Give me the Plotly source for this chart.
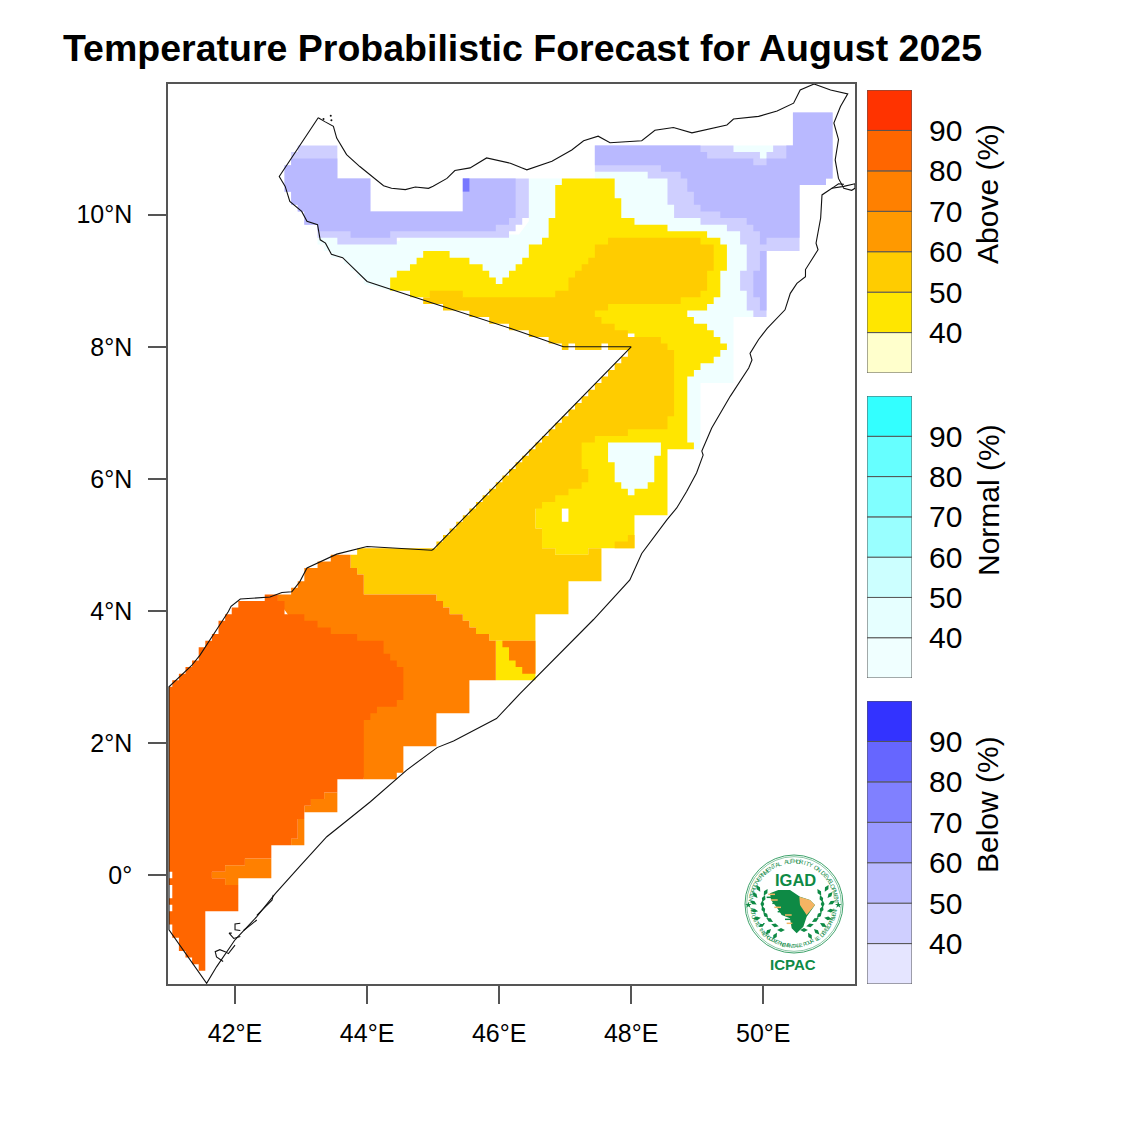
import math
import plotly.graph_objects as go

# ---- map data: every region is (lon, lat) corners ----
NORMAL_40 = [(43.25,9.65),(43.25,9.55),(43.35,9.55),(43.35,9.45),(43.45,9.45),(43.45,9.35),(43.65,9.35),(43.65,9.25),
    (43.75,9.25),(43.75,9.15),(43.85,9.15),(43.85,9.05),(43.95,9.05),(43.95,8.95),(44.35,8.85),(48.9,8.85),(48.7,6.45),
    (49.05,6.45),(49.05,7.45),(49.55,7.45),(49.55,8.45),(49.85,8.45),(49.85,9.6),(50.4,9.6),(50.4,10.95),(50.15,10.95),
    (50.15,11.05),(49.55,11.05),(49.55,10.9),(47.6,10.9),(47.6,10.65),(47.45,10.65),(47.45,10.55),(46.45,10.55),
    (46.45,9.9),(46.3,9.7),(44.5,9.7),(44.5,9.6),(43.6,9.6),(43.6,9.7),(43.25,9.7),(43.25,9.65)]
NW_BELOW_40 = [(42.95,11.05),(43.55,11.05),(43.55,10.55),(44.05,10.55),(44.05,10.05),(45.45,10.05),(45.45,10.55),
    (46.45,10.55),(46.45,9.95),(46.35,9.95),(46.35,9.85),(46.25,9.85),(46.25,9.75),(46.15,9.75),(46.15,9.65),
    (44.45,9.65),(44.45,9.55),(43.55,9.55),(43.55,9.65),(43.25,9.65),(43.25,9.85),(43.05,9.85),(43.05,10.05),
    (42.95,10.05),(42.95,10.15),(42.85,10.15),(42.85,10.35),(42.75,10.35),(42.75,10.75),(42.85,10.75),(42.85,10.95),
    (42.95,10.95),(42.95,11.05)]
NW_BELOW_50 = [(42.85,10.85),(43.55,10.85),(43.55,10.55),(44.05,10.55),(44.05,10.05),(45.45,10.05),(45.45,10.55),
    (46.25,10.55),(46.25,9.95),(46.15,9.95),(46.15,9.85),(45.95,9.85),(45.95,9.75),(44.35,9.75),(44.35,9.65),
    (43.75,9.65),(43.75,9.75),(43.25,9.75),(43.25,9.85),(43.05,9.85),(43.05,10.05),(42.95,10.05),(42.95,10.15),
    (42.85,10.15),(42.85,10.35),(42.75,10.35),(42.75,10.75),(42.85,10.75),(42.85,10.85)]
BELOW_80_CELL = [(45.45,10.55),(45.55,10.55),(45.55,10.35),(45.45,10.35),(45.45,10.55)]
NE_BELOW_40 = [(47.45,11.05),(49.55,11.05),(49.55,10.95),(49.95,10.95),(49.95,10.85),(50.05,10.85),(50.05,10.95),
    (50.15,10.95),(50.15,11.05),(50.45,11.05),(50.45,11.55),(51.05,11.55),(51.05,10.55),(50.95,10.55),(50.95,10.45),
    (50.55,10.45),(50.55,9.45),(50.05,9.45),(50.05,8.45),(49.85,8.45),(49.85,8.55),(49.75,8.55),(49.75,8.85),
    (49.65,8.85),(49.65,9.15),(49.75,9.15),(49.75,9.55),(49.65,9.55),(49.65,9.65),(49.65,9.75),(49.45,9.75),
    (49.45,9.85),(49.05,9.85),(49.05,9.95),(48.65,9.95),(48.65,10.15),(48.55,10.15),(48.55,10.55),(48.25,10.55),
    (48.25,10.65),(47.45,10.65),(47.45,11.05)]
NE_BELOW_50 = [(47.45,11.05),(49.05,11.05),(49.05,10.95),(49.15,10.95),(49.15,10.85),(49.85,10.85),(49.85,10.75),
    (50.05,10.75),(50.05,10.85),(50.35,10.85),(50.35,11.05),(50.45,11.05),(50.45,11.55),(51.05,11.55),(51.05,10.55),
    (50.95,10.55),(50.95,10.45),(50.55,10.45),(50.55,9.65),(50.05,9.65),(50.05,9.55),(49.95,9.55),(49.95,9.75),
    (49.85,9.75),(49.85,9.85),(49.75,9.85),(49.75,9.95),(49.35,9.95),(49.35,10.05),(49.05,10.05),(49.05,10.15),
    (48.95,10.15),(48.95,10.35),(48.85,10.35),(48.85,10.55),(48.75,10.55),(48.75,10.65),(48.45,10.65),(48.45,10.75),
    (47.45,10.75),(47.45,11.05)]
STRIPE_BELOW_50 = [(49.95,9.45),(50.05,9.45),(50.05,8.55),(49.95,8.55),(49.95,8.75),(49.85,8.75),(49.85,9.15),
    (49.95,9.15),(49.95,9.45)]
ABOVE_40 = [(44.35,8.85),(44.35,9.05),(44.45,9.05),(44.45,9.15),(44.65,9.15),(44.65,9.25),(44.75,9.25),(44.75,9.35),
    (44.85,9.35),(44.85,9.45),(45.25,9.45),(45.25,9.35),(45.55,9.35),(45.55,9.25),(45.75,9.25),(45.75,9.15),
    (45.85,9.15),(45.85,9.05),(45.95,9.05),(45.95,8.95),(46.05,8.95),(46.05,9.05),(46.15,9.05),(46.15,9.15),
    (46.25,9.15),(46.25,9.25),(46.35,9.25),(46.35,9.35),(46.45,9.35),(46.45,9.55),(46.65,9.55),(46.65,9.65),
    (46.75,9.65),(46.75,9.95),(46.85,9.95),(46.85,10.45),(46.95,10.45),(46.95,10.55),(47.75,10.55),(47.75,10.25),
    (47.85,10.25),(47.85,9.95),(48.05,9.95),(48.05,9.85),(48.55,9.85),(48.55,9.75),(49.15,9.75),(49.15,9.65),
    (49.35,9.65),(49.35,9.55),(49.45,9.55),(49.45,9.15),(49.35,9.15),(49.35,8.75),(49.25,8.75),(49.25,8.65),
    (49.15,8.65),(49.15,8.55),(48.85,8.55),(48.85,8.45),(48.95,8.45),(48.95,8.35),(49.15,8.35),(49.15,8.25),
    (49.25,8.25),(49.25,8.15),(49.35,8.15),(49.35,8.05),(49.45,8.05),(49.45,7.95),(49.35,7.95),(49.35,7.85),
    (49.25,7.85),(49.25,7.75),(49.05,7.75),(49.05,7.65),(48.95,7.65),(48.95,7.55),(48.85,7.55),(48.85,6.55),
    (48.95,6.55),(48.95,6.45),(48.55,6.45),(48.55,5.45),(48.05,5.45),(48.05,4.95),(47.35,4.95),(47.35,4.85),
    (46.85,4.85),(46.85,4.95),(46.65,4.95),(46.65,5.25),(46.55,5.25),(46.55,5.55),(46.45,5.55),(46.45,6.2),(47.0,6.2),
    (47.0,6.7),(47.6,6.7),(47.6,7.3),(48.05,7.3),(48.05,8.2),(46.85,8.2),(46.85,8.3),(46.45,8.3),(46.45,8.55),
    (45.45,8.55),(45.45,8.75),(44.65,8.75),(44.65,8.85),(44.35,8.85)]
ABOVE_40_SOUTH = [(45.95,3.55),(46.55,3.55),(46.55,2.95),(45.95,2.95),(45.95,3.55)]
ABOVE_50 = [(44.85,8.75),(44.95,8.75),(44.95,8.85),(45.45,8.85),(45.45,8.75),(46.85,8.75),(46.85,8.85),(47.05,8.85),
    (47.05,9.05),(47.15,9.05),(47.15,9.15),(47.25,9.15),(47.25,9.25),(47.35,9.25),(47.35,9.35),(47.45,9.35),
    (47.45,9.55),(47.65,9.55),(47.65,9.65),(49.05,9.65),(49.05,9.55),(49.25,9.55),(49.25,9.15),(49.15,9.15),
    (49.15,8.85),(49.05,8.85),(49.05,8.75),(48.75,8.75),(48.75,8.65),(47.65,8.65),(47.65,8.55),(47.45,8.55),
    (47.45,8.45),(47.55,8.45),(47.55,8.35),(47.75,8.35),(47.75,8.25),(47.95,8.25),(47.95,8.15),(48.45,8.15),
    (48.45,8.05),(48.55,8.05),(48.55,7.95),(48.65,7.95),(48.65,6.95),(48.55,6.95),(48.55,6.75),(47.95,6.75),
    (47.95,6.65),(47.45,6.65),(47.45,6.55),(47.25,6.55),(47.25,6.15),(47.35,6.15),(47.35,5.95),(47.25,5.95),
    (47.25,5.85),(47.05,5.85),(47.05,5.75),(46.85,5.75),(46.85,5.65),(46.65,5.65),(46.65,5.55),(46.55,5.55),
    (46.55,5.25),(46.65,5.25),(46.65,4.95),(46.85,4.95),(46.85,4.85),(47.35,4.85),(47.35,4.95),(47.55,4.95),
    (47.55,4.45),(47.05,4.45),(47.05,3.95),(46.55,3.95),(46.55,3.55),(45.85,3.55),(45.85,3.65),(45.65,3.65),
    (45.65,3.75),(45.55,3.75),(45.55,3.85),(45.45,3.85),(45.45,3.95),(45.25,3.95),(45.25,4.05),(45.15,4.05),
    (45.15,4.15),(45.05,4.15),(45.05,4.25),(43.95,4.25),(43.95,4.55),(43.85,4.55),(43.85,4.65),(43.75,4.65),
    (43.75,4.85),(43.85,4.85),(43.85,4.95),(45.05,4.95),(45.05,5.05),(45.15,5.15),(45.25,5.25),(45.35,5.35),
    (45.45,5.45),(45.55,5.55),(45.65,5.65),(45.75,5.75),(45.85,5.85),(45.95,5.95),(46.05,6.05),(46.15,6.15),
    (46.25,6.25),(46.35,6.35),(46.45,6.45),(46.55,6.55),(46.65,6.65),(46.75,6.75),(46.85,6.85),(46.95,6.95),
    (47.05,7.05),(47.15,7.15),(47.25,7.25),(47.35,7.35),(47.45,7.45),(47.55,7.55),(47.65,7.65),(47.75,7.75),
    (47.85,7.85),(47.95,7.95),(47.65,7.95),(47.65,8.05),(47.55,8.05),(47.55,7.95),(47.15,7.95),(47.15,8.05),
    (47.05,8.05),(47.05,7.95),(46.95,7.95),(46.95,8.05),(46.75,8.05),(46.75,8.15),(46.45,8.15),(46.45,8.25),
    (46.15,8.25),(46.15,8.35),(45.85,8.35),(45.85,8.45),(45.55,8.45),(45.55,8.55),(45.15,8.55),(45.15,8.65),
    (44.85,8.65),(44.85,8.75)]
ABOVE_50_PATCH = [(47.95,5.15),(48.05,5.15),(48.05,4.95),(47.75,4.95),(47.75,5.05),(47.95,5.05),(47.95,5.15)]
ABOVE_70 = [(42.65,4.15),(42.65,4.25),(42.85,4.25),(42.85,4.35),(42.95,4.35),(42.95,4.45),(43.05,4.45),(43.05,4.65),
    (43.25,4.65),(43.25,4.75),(43.45,4.75),(43.45,4.85),(43.75,4.85),(43.75,4.65),(43.85,4.65),(43.85,4.55),
    (43.95,4.55),(43.95,4.25),(45.05,4.25),(45.05,4.15),(45.15,4.15),(45.15,4.05),(45.25,4.05),(45.25,3.95),
    (45.45,3.95),(45.45,3.85),(45.55,3.85),(45.55,3.75),(45.65,3.75),(45.65,3.65),(45.85,3.65),(45.85,3.55),
    (45.95,3.55),(45.95,2.95),(45.55,2.95),(45.55,2.45),(45.05,2.45),(45.05,1.95),(44.55,1.95),(44.55,1.55),
    (44.45,1.55),(44.45,1.45),(43.95,1.45),(43.5,3.0),(42.65,4.15)]
ABOVE_70_COAST = [(46.05,3.55),(46.55,3.55),(46.55,3.05),(46.35,3.05),(46.35,3.15),(46.25,3.15),(46.25,3.25),
    (46.15,3.25),(46.15,3.45),(46.05,3.45),(46.05,3.55)]
ABOVE_70_A = [(43.35,1.25),(43.55,1.25),(43.55,0.95),(43.05,0.95),(43.05,1.05),(43.15,1.05),(43.15,1.15),(43.35,1.15),(43.35,1.25)]
ABOVE_70_B = [(42.95,0.85),(43.05,0.85),(43.05,0.45),(42.85,0.45),(42.85,0.55),(42.95,0.55),(42.95,0.85)]
ABOVE_70_C = [(42.15,0.25),(42.55,0.25),(42.55,-0.05),(42.05,-0.05),(42.05,-0.15),(41.85,-0.15),(41.85,-0.05),
    (41.65,-0.05),(41.65,0.05),(41.85,0.05),(41.85,0.15),(42.15,0.15),(42.15,0.25)]
ABOVE_80 = [(42.05,4.15),(42.45,4.15),(42.45,4.25),(42.65,4.25),(42.65,4.15),(42.75,4.15),(42.75,3.95),(43.05,3.95),
    (43.05,3.85),(43.25,3.85),(43.25,3.75),(43.45,3.75),(43.45,3.65),(43.85,3.65),(43.85,3.55),(44.25,3.55),
    (44.25,3.35),(44.35,3.35),(44.35,3.25),(44.45,3.25),(44.45,3.15),(44.55,3.15),(44.55,2.65),(44.45,2.65),
    (44.45,2.55),(44.15,2.55),(44.15,2.45),(44.05,2.45),(44.05,2.35),(43.95,2.35),(43.95,1.45),(43.55,1.45),
    (43.55,1.25),(43.35,1.25),(43.35,1.15),(43.15,1.15),(43.15,1.05),(43.05,1.05),(43.05,0.85),(42.95,0.85),
    (42.95,0.55),(42.85,0.55),(42.85,0.45),(42.55,0.45),(42.55,0.25),(42.15,0.25),(42.15,0.15),(41.85,0.15),
    (41.85,0.05),(41.65,0.05),(41.65,-0.05),(41.85,-0.05),(41.85,-0.15),(42.05,-0.15),(42.05,-0.55),(41.55,-0.55),
    (41.55,-1.45),(41.45,-1.45),(41.45,-1.35),(41.35,-1.35),(41.35,-1.25),(41.25,-1.25),(41.25,-1.15),(41.15,-1.15),
    (41.15,-0.95),(41.05,-0.95),(41.05,-0.75),(41.0,-0.75),(41.0,-0.55),(41.05,-0.55),(41.05,-0.45),(41.0,-0.45),
    (41.0,-0.35),(41.05,-0.35),(41.05,-0.15),(41.0,-0.15),(41.0,-0.05),(41.05,-0.05),(41.05,0.05),(41.0,0.05),
    (41.0,2.85),(41.05,2.85),(41.05,2.95),(41.15,2.95),(41.15,3.05),(41.25,3.05),(41.25,3.15),(41.35,3.15),
    (41.35,3.25),(41.45,3.25),(41.45,3.45),(41.55,3.45),(41.55,3.55),(41.65,3.55),(41.65,3.65),(41.75,3.65),
    (41.75,3.85),(41.85,3.85),(41.85,3.95),(41.95,3.95),(41.95,4.05),(42.05,4.05),(42.05,4.15)]
NO_DATA_CELL = [(46.95,5.55),(47.05,5.55),(47.05,5.35),(46.95,5.35),(46.95,5.55)]
NORMAL_PATCH = [(47.65,6.55),(48.45,6.55),(48.45,6.35),(48.35,6.35),(48.35,5.95),(48.25,5.95),(48.25,5.85),(48.05,5.85),
    (48.05,5.75),(47.95,5.75),(47.95,5.85),(47.85,5.85),(47.85,5.95),(47.75,5.95),(47.75,6.25),(47.65,6.25),(47.65,6.55)]

BORDER = [(43.26,11.47),(42.68,10.61),(42.67,10.58),(42.76,10.43),(42.83,10.20),(43.01,10.05),(43.09,9.90),(43.25,9.85),
    (43.29,9.62),(43.37,9.57),(43.46,9.40),(43.63,9.35),(44.0,8.99),(45.0,8.66),(46.167,8.28),(46.975,8.0),(48.0,8.0),
    (45.0,4.93),(44.98,4.92),(44.0,4.975),(43.54,4.86),(43.09,4.65),(42.98,4.44),(42.86,4.29),(42.71,4.28),(42.53,4.21),
    (42.08,4.18),(41.94,4.07),(41.90,3.99),(41.77,3.79),(41.47,3.33),(41.34,3.17),(41.0,2.85),(41.0,-0.83),(41.57,-1.64),
    (41.72,-1.39),(42.0,-0.98),(42.33,-0.63),(42.61,-0.28),(42.98,0.13),(43.39,0.58),(43.74,0.86),(44.05,1.11),(44.6,1.59),
    (45.06,1.93),(45.31,2.03),(45.96,2.37),(46.32,2.75),(46.92,3.36),(47.43,3.87),(47.98,4.47),(48.08,4.68),(48.14,4.82),
    (48.16,4.87),(48.54,5.38),(48.69,5.56),(48.84,5.81),(48.99,6.09),(49.09,6.36),(49.07,6.42),(49.22,6.77),(49.35,6.99),
    (49.5,7.25),(49.78,7.68),(49.83,7.80),(49.80,7.90),(49.93,8.11),(50.06,8.28),(50.21,8.43),(50.33,8.56),(50.41,8.81),
    (50.51,8.96),(50.64,9.06),(50.64,9.17),(50.83,9.47),(50.80,9.57),(50.87,9.95),(50.89,10.30),(51.04,10.40),
    (51.22,10.43),(51.39,10.47),(51.39,10.40),(51.34,10.37),(51.22,10.40),(51.14,10.55),(51.09,10.83),(51.14,11.14),
    (51.07,11.39),(51.17,11.64),(51.28,11.83),(51.02,11.89),(50.77,11.98),(50.56,11.89),(50.46,11.69),(50.21,11.57),
    (49.93,11.49),(49.55,11.45),(49.45,11.36),(48.92,11.24),(48.64,11.32),(48.36,11.28),(48.16,11.12),(47.68,11.09),
    (47.5,11.19),(47.28,11.12),(47.10,10.98),(46.80,10.81),(46.42,10.68),(46.34,10.71),(46.17,10.78),(45.81,10.86),
    (45.56,10.71),(45.33,10.67),(45.21,10.55),(45.0,10.43),(44.93,10.40),(44.73,10.42),(44.58,10.38),(44.37,10.40),
    (44.25,10.44),(43.89,10.73),(43.69,10.91),(43.54,11.16),(43.49,11.34),(43.36,11.41),(43.26,11.47)]
ISLAND_LINES = [
    [(41.82,-1.31),(41.72,-1.24),(41.70,-1.16),(41.77,-1.13),(41.85,-1.16),(41.90,-1.19),(42.0,-1.06)],
    [(41.95,-0.88),(41.91,-0.88),(41.98,-0.96),(42.08,-0.93)],
    [(42.08,-0.73),(42.0,-0.74),(42.0,-0.83),(42.08,-0.84)],
    [(42.13,-0.84),(42.33,-0.68)],
    [(42.33,-0.61),(42.48,-0.45),(42.56,-0.38),(42.58,-0.30)],
    [(51.04,10.40),(51.14,10.47),(51.22,10.46)],
]
ISLAND_DOTS = [(43.45,11.50),(43.46,11.43),(43.34,11.45)]

LON_TICKS = [42, 44, 46, 48, 50]
LON_LABELS = ["42°E", "44°E", "46°E", "48°E", "50°E"]
LAT_TICKS = [0, 2, 4, 6, 8, 10]
LAT_LABELS = ["0°", "2°N", "4°N", "6°N", "8°N", "10°N"]

# ---- legend data ----
BAND_BASE = [30, 40, 50, 60, 70, 80, 90]
BAND_SIZE = [10, 10, 10, 10, 10, 10, 10]
LEGEND_TICKS = [40, 50, 60, 70, 80, 90]
ABOVE_COLORS = ["#FFFFCC", "#FFE600", "#FFCC00", "#FF9900", "#FF8000", "#FF6600", "#FF3300"]
NORMAL_COLORS = ["#F0FFFF", "#E6FFFF", "#CCFFFF", "#99FFFF", "#80FFFF", "#66FFFF", "#33FFFF"]
BELOW_COLORS = ["#E5E5FF", "#CFCFFF", "#B9B9FF", "#9999FF", "#8080FF", "#6666FF", "#3333FF"]

# ---- logo shapes, in crop coordinates of the logo box ----
AFRICA = [(105,130),(130,120),(165,120),(195,140),(225,150),(240,165),(215,200),(205,230),(185,250),(170,235),(165,205),
    (140,195),(125,172),(108,150),(105,130)]
HORN = [(193,140),(225,150),(240,165),(215,195),(195,165),(193,140)]
STREAK_ORANGE = [[(100,133),(120,133)], [(108,150),(128,150)], [(118,172),(138,172)], [(150,195),(170,195)], [(155,220),(172,220)]]
STREAK_GREEN = [[(95,142),(112,142)], [(112,160),(128,160)], [(128,185),(148,185)], [(150,208),(168,208)]]
LEAF_OUTER_X = [70, 60, 55, 58, 66, 80, 100, 120]
LEAF_OUTER_Y = [115, 135, 158, 182, 205, 225, 245, 258]
LEAF_OUTER_ANGLE = [-30, -40, -60, -80, -100, -120, -135, -150]
LEAF_INNER_X = [92, 86, 82, 85, 92, 104, 120, 138]
LEAF_INNER_Y = [127, 146, 162, 178, 195, 210, 226, 240]
LEAF_INNER_ANGLE = [30, 20, 0, -20, -40, -60, -75, -90]
TOP_RING_TEXT = "INTERGOVERNMENTAL AUTHORITY ON DEVELOPMENT"
BOTTOM_RING_TEXT = "AUTORITÉ INTERGOUVERNEMENTALE POUR LE DÉVELOPPEMENT"

FONT = "Liberation Sans"
W = 1125
LOGO_GREEN = "#0E8A45"

fig = go.Figure()


def add_region(points, color, shape="linear"):
    fig.add_trace(go.Scatter(x=[p[0] for p in points], y=[p[1] for p in points], mode="lines", fill="toself",
                             fillcolor=color, line=dict(width=0, color=color, shape=shape), hoverinfo="skip",
                             showlegend=False))


add_region(NORMAL_40, "#F0FFFF")
add_region(NW_BELOW_40, "#CFCFFF")
add_region(NW_BELOW_50, "#B9B9FF")
add_region(BELOW_80_CELL, "#7878FF")
add_region(NE_BELOW_40, "#CFCFFF")
add_region(NE_BELOW_50, "#B9B9FF")
add_region(STRIPE_BELOW_50, "#B9B9FF")
add_region(ABOVE_40, "#FFE600")
add_region(ABOVE_40_SOUTH, "#FFE600")
add_region(ABOVE_50, "#FFCC00", shape="hv")
add_region(ABOVE_50_PATCH, "#FFCC00")
add_region(ABOVE_70, "#FF8000")
add_region(ABOVE_70_COAST, "#FF8000")
add_region(ABOVE_70_A, "#FF8000")
add_region(ABOVE_70_B, "#FF8000")
add_region(ABOVE_70_C, "#FF8000")
add_region(ABOVE_80, "#FF6600")
add_region(NO_DATA_CELL, "#FFFFFF")
add_region(NORMAL_PATCH, "#F0FFFF")

fig.add_trace(go.Scatter(x=[p[0] for p in BORDER], y=[p[1] for p in BORDER], mode="lines",
                         line=dict(color="#111111", width=1.1), hoverinfo="skip", showlegend=False))
for isle in ISLAND_LINES:
    fig.add_trace(go.Scatter(x=[p[0] for p in isle], y=[p[1] for p in isle], mode="lines",
                             line=dict(color="#111111", width=1.1), hoverinfo="skip", showlegend=False))
fig.add_trace(go.Scatter(x=[p[0] for p in ISLAND_DOTS], y=[p[1] for p in ISLAND_DOTS], mode="markers",
                         marker=dict(color="#111111", size=2), hoverinfo="skip", showlegend=False))

# three stacked colour bars, each on its own pair of axes
bars = [("x2", "y2", ABOVE_COLORS), ("x3", "y3", NORMAL_COLORS), ("x4", "y4", BELOW_COLORS)]
for xa, ya, colors in bars:
    fig.add_trace(go.Bar(x=[0] * 7, y=BAND_SIZE, base=BAND_BASE, width=1, xaxis=xa, yaxis=ya, hoverinfo="skip",
                         marker=dict(color=colors, line=dict(color="#555555", width=1)), showlegend=False))

# logo on its own little axes, in crop coordinates
LX, LY = "x5", "y5"


def logo_poly(points, color):
    fig.add_trace(go.Scatter(x=[p[0] for p in points], y=[p[1] for p in points], mode="lines", fill="toself",
                             fillcolor=color, line=dict(width=0, color=color), xaxis=LX, yaxis=LY, hoverinfo="skip",
                             showlegend=False))


logo_poly(AFRICA, LOGO_GREEN)
logo_poly(HORN, "#F5B463")
for seg in STREAK_ORANGE:
    fig.add_trace(go.Scatter(x=[p[0] for p in seg], y=[p[1] for p in seg], mode="lines", xaxis=LX, yaxis=LY,
                             line=dict(color="#F5B463", width=1.5), hoverinfo="skip", showlegend=False))
for seg in STREAK_GREEN:
    fig.add_trace(go.Scatter(x=[p[0] for p in seg], y=[p[1] for p in seg], mode="lines", xaxis=LX, yaxis=LY,
                             line=dict(color=LOGO_GREEN, width=1.5), hoverinfo="skip", showlegend=False))
leaf_x = LEAF_OUTER_X + LEAF_INNER_X
leaf_y = LEAF_OUTER_Y + LEAF_INNER_Y
leaf_angle = LEAF_OUTER_ANGLE + LEAF_INNER_ANGLE
fig.add_trace(go.Scatter(x=leaf_x + [345 - v for v in leaf_x], y=leaf_y + leaf_y, mode="markers", xaxis=LX, yaxis=LY,
                         marker=dict(symbol="diamond-tall", size=5.5, color=LOGO_GREEN,
                                     angle=leaf_angle + [-a for a in leaf_angle]),
                         hoverinfo="skip", showlegend=False))
fig.add_trace(go.Scatter(x=[40, 310], y=[165, 165], mode="markers", xaxis=LX, yaxis=LY,
                         marker=dict(symbol="star", size=5, color=LOGO_GREEN), hoverinfo="skip", showlegend=False))

annotations = [
    dict(text="<b>Temperature Probabilistic Forecast for August 2025</b>", x=61 / W, y=1 - 48 / W, xref="paper",
         yref="paper", xanchor="left", yanchor="middle", showarrow=False, font=dict(family=FONT, size=37.5, color="black")),
]
for label, yc in [("Above (%)", 194), ("Normal (%)", 500), ("Below (%)", 805)]:
    annotations.append(dict(text=label, x=988 / W, y=1 - yc / W, xref="paper", yref="paper", showarrow=False,
                            xanchor="center", yanchor="middle", textangle=-90,
                            font=dict(family=FONT, size=30, color="black")))
annotations.append(dict(text="<b>IGAD</b>", x=180, y=90, xref=LX, yref=LY, showarrow=False,
                        font=dict(family=FONT, size=16.5, color=LOGO_GREEN)))
annotations.append(dict(text="<b>ICPAC</b>", x=175, y=342, xref=LX, yref=LY, showarrow=False,
                        font=dict(family=FONT, size=15, color=LOGO_GREEN)))
for i, ch in enumerate(TOP_RING_TEXT):
    a = math.radians(-88 + 176 * i / (len(TOP_RING_TEXT) - 1))
    annotations.append(dict(text=ch, x=176 + 128 * math.sin(a), y=162 - 128 * math.cos(a), xref=LX, yref=LY,
                            showarrow=False, textangle=math.degrees(a), font=dict(family=FONT, size=6, color=LOGO_GREEN)))
for i, ch in enumerate(BOTTOM_RING_TEXT):
    a = math.radians(-82 + 164 * i / (len(BOTTOM_RING_TEXT) - 1))
    annotations.append(dict(text=ch, x=176 + 125 * math.sin(a), y=162 + 125 * math.cos(a), xref=LX, yref=LY,
                            showarrow=False, textangle=-math.degrees(a), font=dict(family=FONT, size=5.5, color=LOGO_GREEN)))

frame = "#555555"
layout = dict(
    width=W, height=W, margin=dict(l=0, r=0, t=0, b=0), paper_bgcolor="white", plot_bgcolor="white", barmode="overlay",
    annotations=annotations,
    xaxis=dict(domain=[168 / W, 855 / W], range=[40.985, 51.39], tickmode="array", tickvals=LON_TICKS, ticktext=LON_LABELS,
               ticks="outside", ticklen=18, tickcolor=frame, tickwidth=1.5, showgrid=False, zeroline=False, mirror=True,
               showline=True, linecolor=frame, linewidth=1.5, tickfont=dict(family=FONT, size=25, color="black"),
               ticklabelstandoff=8, anchor="y"),
    yaxis=dict(domain=[1 - 984 / W, 1 - 84 / W], range=[-1.65, 11.98], tickmode="array", tickvals=LAT_TICKS,
               ticktext=LAT_LABELS, ticks="outside", ticklen=18, tickcolor=frame, tickwidth=1.5, showgrid=False,
               zeroline=False, mirror=True, showline=True, linecolor=frame, linewidth=1.5,
               tickfont=dict(family=FONT, size=25, color="black"), ticklabelstandoff=11, anchor="x"),
    xaxis5=dict(domain=[735 / W, 850 / W], range=[0, 345], visible=False, anchor="y5", fixedrange=True),
    yaxis5=dict(domain=[1 - 975 / W, 1 - 850 / W], range=[375, 0], visible=False, anchor="x5", fixedrange=True),
)
for n, (top, bottom) in zip([2, 3, 4], [(90, 373), (396, 678), (701, 984)]):
    layout[f"xaxis{n}"] = dict(domain=[867 / W, 912 / W], range=[-0.5, 0.5], visible=False, anchor=f"y{n}")
    layout[f"yaxis{n}"] = dict(domain=[1 - bottom / W, 1 - top / W], range=[30, 100], side="right", anchor=f"x{n}",
                               tickmode="array", tickvals=LEGEND_TICKS, ticks="outside", ticklen=10,
                               tickcolor="rgba(0,0,0,0)", showgrid=False, zeroline=False, showline=False,
                               tickfont=dict(family=FONT, size=30, color="black"))
fig.update_layout(**layout)

# outer rings of the logo
for r, w in [(147, 1.0), (142, 0.6)]:
    fig.add_shape(type="circle", xref=LX, yref=LY, x0=177 - r, x1=177 + r, y0=162 - r, y1=162 + r,
                  line=dict(color="#3FA36B", width=w))

fig.write_html("out.html", config={"displayModeBar": False},
               post_script="document.body.style.margin='0';document.body.style.overflow='hidden';")
